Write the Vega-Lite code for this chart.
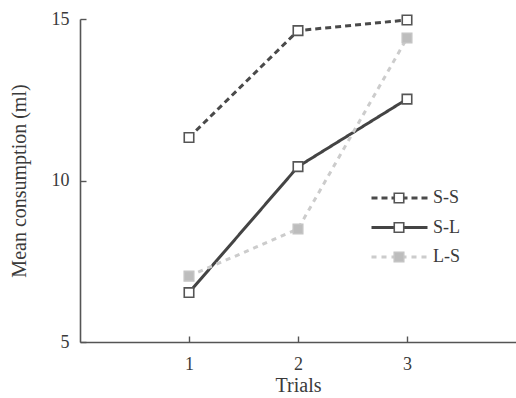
{
  "$schema": "https://vega.github.io/schema/vega-lite/v6.json",
  "width": 436,
  "height": 323,
  "autosize": "none",
  "padding": {"left": 80, "top": 19, "right": 0, "bottom": 56},
  "background": "white",
  "config": {
    "view": {"stroke": null},
    "font": "Liberation Serif",
    "axis": {
      "domainColor": "#555",
      "domainWidth": 1.6,
      "tickColor": "#555",
      "tickWidth": 1.4,
      "tickSize": -6,
      "grid": false,
      "labelFont": "Liberation Serif",
      "labelFontSize": 18,
      "labelColor": "#3a3a3a",
      "titleFont": "Liberation Serif",
      "titleFontSize": 20,
      "titleFontWeight": "normal",
      "titleColor": "#3a3a3a"
    },
    "legend": {
      "labelFont": "Liberation Serif",
      "labelFontSize": 18,
      "labelColor": "#3a3a3a",
      "padding": 0,
      "rowPadding": 9.5,
      "clipHeight": 20
    }
  },
  "data": {
    "values": [
      {"trial": 1, "group": "S-S", "value": 11.33},
      {"trial": 2, "group": "S-S", "value": 14.64},
      {"trial": 3, "group": "S-S", "value": 14.97},
      {"trial": 1, "group": "S-L", "value": 6.53},
      {"trial": 2, "group": "S-L", "value": 10.43},
      {"trial": 3, "group": "S-L", "value": 12.52},
      {"trial": 1, "group": "L-S", "value": 7.04},
      {"trial": 2, "group": "L-S", "value": 8.5},
      {"trial": 3, "group": "L-S", "value": 14.41}
    ]
  },
  "encoding": {
    "x": {
      "field": "trial",
      "type": "quantitative",
      "scale": {"domain": [0, 4], "nice": false},
      "axis": {"values": [1, 2, 3], "title": "Trials", "labelPadding": 19, "titlePadding": 2}
    },
    "y": {
      "field": "value",
      "type": "quantitative",
      "scale": {"domain": [5, 15], "nice": false, "zero": false},
      "axis": {"values": [5, 10, 15], "title": "Mean consumption (ml)", "labelPadding": 17, "titlePadding": 22}
    }
  },
  "layer": [
    {
      "mark": {"type": "line"},
      "encoding": {
        "stroke": {
          "field": "group", "type": "nominal", "sort": "descending",
          "scale": {"range": ["#4a4a4a", "#444444", "#cccccc"]},
          "legend": {"title": null, "orient": "none", "legendX": 290, "legendY": 169, "symbolType": "stroke", "symbolSize": 3136, "zindex": 0}
        },
        "strokeDash": {
          "field": "group", "type": "nominal", "sort": "descending",
          "scale": {"range": [[6, 4], [1, 0], [5, 5]]},
          "legend": {"title": null, "orient": "none", "legendX": 290, "legendY": 169, "symbolType": "stroke", "symbolSize": 3136, "zindex": 0}
        },
        "strokeWidth": {
          "field": "group", "type": "nominal", "sort": "descending",
          "scale": {"range": [3, 3, 1.3]},
          "legend": {"title": null, "orient": "none", "legendX": 290, "legendY": 169, "symbolType": "stroke", "symbolSize": 3136, "zindex": 0}
        }
      }
    },
    {
      "transform": [{"calculate": "datum.group", "as": "grp"}],
      "mark": {"type": "point", "shape": "square", "size": 90, "filled": false, "opacity": 1, "strokeWidth": 1.6},
      "encoding": {
        "fill": {
          "field": "grp", "type": "nominal", "sort": "descending",
          "scale": {"range": ["white", "white", "#bdbdbd"]},
          "legend": {"title": null, "orient": "none", "legendX": 310, "legendY": 169, "labelExpr": "''", "zindex": 1, "symbolSize": 90, "symbolStrokeWidth": 1.6}
        },
        "stroke": {
          "field": "grp", "type": "nominal", "sort": "descending",
          "scale": {"range": ["#555555", "#555555", "#c4c4c4"]},
          "legend": {"title": null, "orient": "none", "legendX": 310, "legendY": 169, "labelExpr": "''", "zindex": 1, "symbolSize": 90, "symbolStrokeWidth": 1.6}
        }
      }
    }
  ],
  "resolve": {
    "scale": {"stroke": "independent", "strokeDash": "independent", "strokeWidth": "independent", "fill": "independent"},
    "legend": {"stroke": "independent", "strokeDash": "independent", "strokeWidth": "independent", "fill": "independent"}
  }
}
